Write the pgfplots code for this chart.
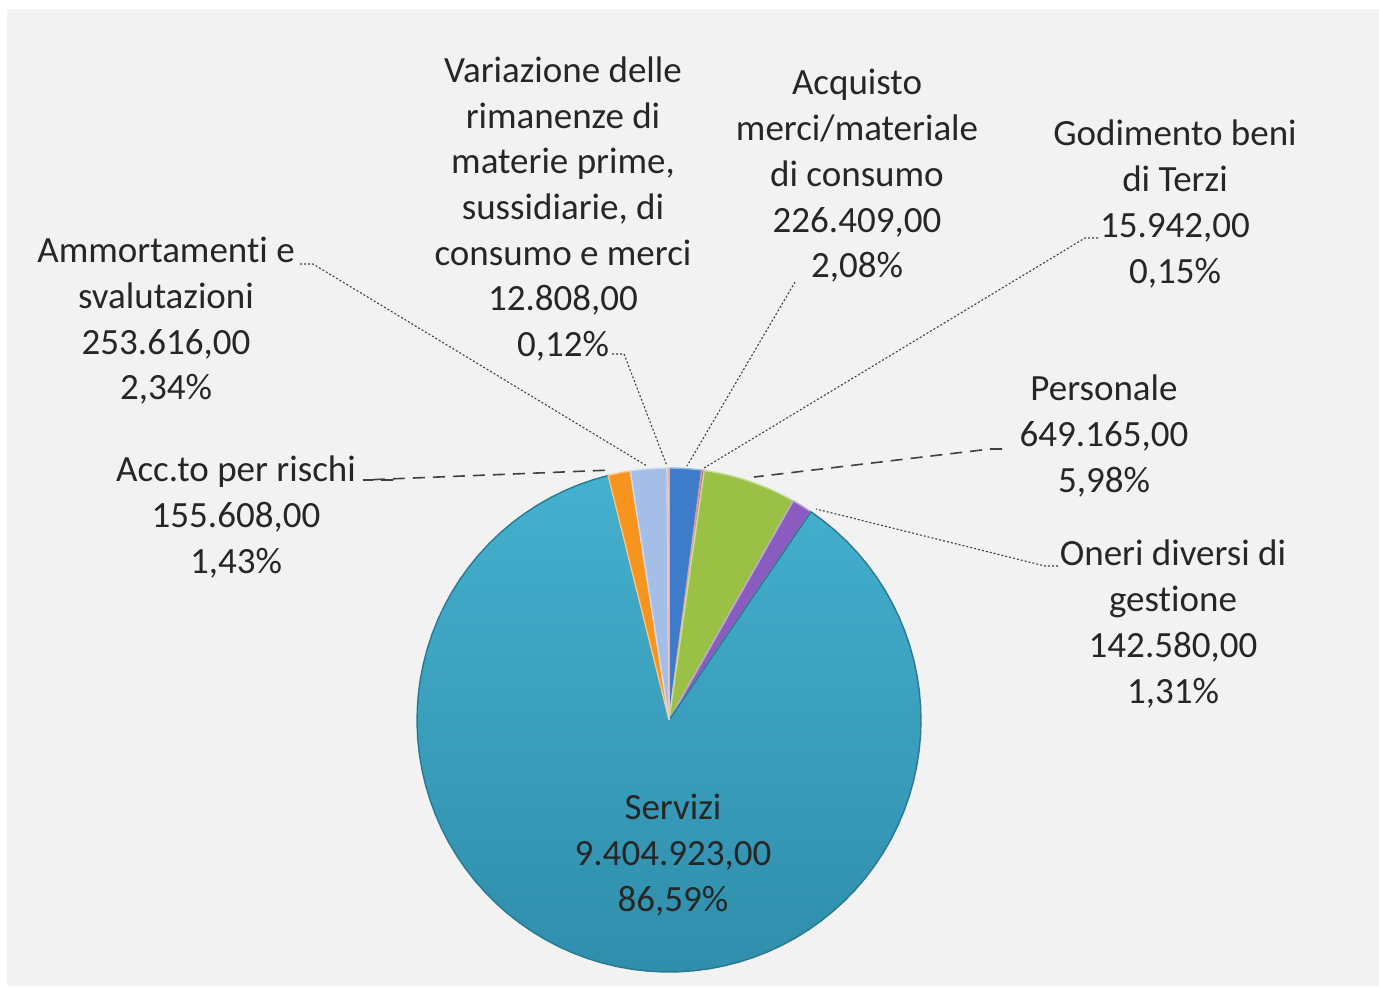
\documentclass[border=0pt]{standalone}
\usepackage{fontspec}
\setmainfont{Carlito}[Ligatures=NoCommon]
\usepackage{pgfplots}
\pgfplotsset{compat=1.18}
\usepackage{pgfplotstable}

\definecolor{bg}{HTML}{F2F2F2}
\definecolor{txt}{HTML}{262626}
\definecolor{cAcq}{HTML}{3E7CC9}
\definecolor{cGod}{HTML}{C0504D}
\definecolor{cPer}{HTML}{9AC146}
\definecolor{cOne}{HTML}{8A5CC0}
\definecolor{cSerT}{HTML}{45B0CF}
\definecolor{cSerB}{HTML}{2F8EAB}
\definecolor{cAcc}{HTML}{F7941D}
\definecolor{cAmm}{HTML}{A4BEE8}
\definecolor{cVar}{HTML}{D99694}

% importi in migliaia di euro, in senso orario da ore 12
\pgfplotstableread[col sep=comma]{
val,style
226.409,sAcq
15.942,sGod
649.165,sPer
142.580,sOne
9404.923,sSer
155.608,sAcc
253.616,sAmm
12.808,sVar
}\slicetab

\pgfplotsset{
  sAcq/.style={fill=cAcq, draw=cAcq!55!white},
  sGod/.style={fill=cGod, draw=cGod!55!white},
  sPer/.style={fill=cPer, draw=cPer!55!white},
  sOne/.style={fill=cOne, draw=cOne!55!white},
  sSer/.style={top color=cSerT, bottom color=cSerB, draw=cSerB!85!black},
  sAcc/.style={fill=cAcc, draw=cAcc!55!white},
  sAmm/.style={fill=cAmm, draw=cAmm!55!white},
  sVar/.style={fill=cVar, draw=cVar!55!white},
  leader/.style={draw=black!75, line width=0.55pt, dash pattern=on 1pt off 1pt},
  leaderlong/.style={draw=black!75, line width=0.8pt, dash pattern=on 6pt off 4pt},
}
\tikzset{lab/.style={font=\fontsize{18.5pt}{22.85pt}\selectfont, text=txt, align=center, inner sep=0pt}}

\newcommand{\cx}{669}
\newcommand{\cy}{720}
\newcommand{\rr}{252}

\begin{document}
\begin{tikzpicture}
\pgfplotstablegetrowsof{\slicetab}
\pgfmathtruncatemacro\nrows{\pgfplotsretval-1}
\gdef\tot{0}
\foreach \i in {0,...,\nrows}{%
  \pgfplotstablegetelem{\i}{val}\of\slicetab
  \pgfmathparse{\tot+\pgfplotsretval}\xdef\tot{\pgfmathresult}%
}
\begin{axis}[
    hide axis,
    scale only axis,
    width=689.5pt, height=493pt,
    xmin=0, xmax=1379,
    ymin=0, ymax=986,
    y dir=reverse,
    clip=false,
]
    % sfondo
    \fill[white] (axis cs:0,0) rectangle (axis cs:1379,986);
    \fill[bg] (axis cs:7,9) rectangle (axis cs:1379,986);
    \coordinate (BL) at (axis cs:0,986);
    \coordinate (TR) at (axis cs:1379,0);

    % spicchi
    \gdef\acc{0}
    \foreach \i in {0,...,\nrows}{%
      \pgfplotstablegetelem{\i}{val}\of\slicetab \let\v\pgfplotsretval
      \pgfplotstablegetelem{\i}{style}\of\slicetab \let\s\pgfplotsretval
      \pgfmathsetmacro\a{\acc/\tot*360}
      \pgfmathparse{\acc+\v}\xdef\acc{\pgfmathresult}
      \pgfmathsetmacro\b{\acc/\tot*360}
      \edef\temp{\noexpand\addplot[\s, line width=0.7pt, domain=\a:\b, samples=90, variable=\noexpand\t]
        ({\cx+\rr*sin(\noexpand\t)}, {\cy-\rr*cos(\noexpand\t)}) -- (axis cs:\cx,\cy) -- cycle;}
      \temp
    }

    % linee guida
    \addplot[leader] coordinates {(300,264)(313,264)(647,466)};
    \addplot[leader] coordinates {(612,354)(624,354)(667,466)};
    \addplot[leader] coordinates {(795,282)(687,466)};
    \addplot[leader] coordinates {(1098,238)(1085,238)(704,468)};
    \addplot[leaderlong] coordinates {(1002,449)(990,449)(754,477)};
    \addplot[leader] coordinates {(1058,566)(1045,566)(816,509)};
    \addplot[leaderlong] coordinates {(393,480)(363,480)(612,470)};

    % etichette
    \node[lab] at (axis cs:563,209) {Variazione delle\\rimanenze di\\materie prime,\\sussidiarie, di\\consumo e merci\\12.808,00\\0,12\%};
    \node[lab] at (axis cs:857,176) {Acquisto\\merci/materiale\\di consumo\\226.409,00\\2,08\%};
    \node[lab] at (axis cs:1175,204) {Godimento beni\\di Terzi\\15.942,00\\0,15\%};
    \node[lab] at (axis cs:166,321) {Ammortamenti e\\svalutazioni\\253.616,00\\2,34\%};
    \node[lab] at (axis cs:236,517) {Acc.to per rischi\\155.608,00\\1,43\%};
    \node[lab] at (axis cs:1104,436) {Personale\\649.165,00\\5,98\%};
    \node[lab] at (axis cs:1173,624) {Oneri diversi di\\gestione\\142.580,00\\1,31\%};
    \node[lab] at (axis cs:673,855) {Servizi\\9.404.923,00\\86,59\%};
\end{axis}
\pgfresetboundingbox
\path[use as bounding box] (BL) rectangle (TR);
\end{tikzpicture}
\end{document}
